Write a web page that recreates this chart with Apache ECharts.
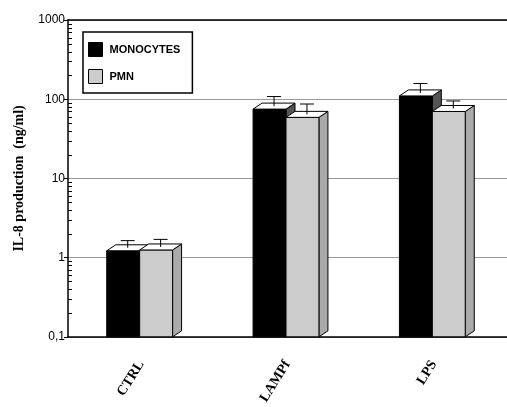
<!DOCTYPE html>
<html>
<head>
<meta charset="utf-8">
<script src="https://cdn.jsdelivr.net/npm/echarts@6/dist/echarts.min.js"></script>
<style>
  html, body { margin: 0; padding: 0; background: #fff; }
  #chart { width: 507px; height: 407px; }
</style>
</head>
<body>
<div id="chart"></div>
<script>
// IL-8 production (ng/ml), mean and upper error value per stimulus
const categories = ['CTRL', 'LAMPf', 'LPS'];
const monocytes = [1.22, 75, 110];
const monocytesErr = [1.64, 108, 158];
const pmn = [1.25, 59, 70];
const pmnErr = [1.7, 87, 95];
const yTicks = [0.1, 1, 10, 100, 1000];
const minorSteps = [2, 3, 4, 5, 6, 7, 8, 9];

// minor ticks of the log axis: 2..9 within each decade
const minorTicks = [];
yTicks.slice(0, -1).forEach(d => minorSteps.forEach(m => minorTicks.push([0, +(d * m).toPrecision(3)])));

const chart = echarts.init(document.getElementById('chart'));

// Pseudo-3D bar: front face, top face, side face and an upper error bar
function makeRenderer(slot, frontColor, sideColor) {
  return function (params, api) {
    const idx = api.value(0);
    const v = api.value(1);
    const e = api.value(2);
    const top = api.coord([idx, v]);
    const base = api.coord([idx, yTicks[0]]);
    const band = api.coord([1, v])[0] - api.coord([0, v])[0];
    const w = band * 0.225;
    const dx = 9, dy = 6;
    const left = slot === 0 ? top[0] - w - 1.5 : top[0] - 1.5;
    const ty = top[1], by = base[1];
    const errY = api.coord([idx, e])[1];
    const cx = left + w / 2 + dx / 2;
    const stroke = { stroke: '#000', lineWidth: 1 };
    return {
      type: 'group',
      children: [
        { type: 'polygon', shape: { points: [[left + w, ty], [left + w + dx, ty - dy], [left + w + dx, by - dy], [left + w, by]] },
          style: Object.assign({ fill: sideColor }, stroke) },
        { type: 'rect', shape: { x: left, y: ty, width: w, height: by - ty },
          style: Object.assign({ fill: frontColor }, stroke) },
        { type: 'polygon', shape: { points: [[left, ty], [left + dx, ty - dy], [left + w + dx, ty - dy], [left + w, ty]] },
          style: Object.assign({ fill: '#fff' }, stroke) },
        { type: 'line', shape: { x1: cx, y1: ty - dy / 2, x2: cx, y2: errY }, style: stroke },
        { type: 'line', shape: { x1: cx - 7, y1: errY, x2: cx + 7, y2: errY }, style: stroke }
      ]
    };
  };
}

// one value-axis minor tick, drawn inward from the axis line
function renderMinorTick(params, api) {
  const p0 = api.coord([0, api.value(1)]);
  const p1 = api.coord([1, api.value(1)]);
  const x = p0[0] - (p1[0] - p0[0]) / 2;
  const y = Math.round(p0[1]) + 0.5;
  return { type: 'line', shape: { x1: x, y1: y, x2: x + 4, y2: y }, style: { stroke: '#000', lineWidth: 1 } };
}

const monoData = categories.map((c, i) => [i, monocytes[i], monocytesErr[i]]);
const pmnData = categories.map((c, i) => [i, pmn[i], pmnErr[i]]);

chart.setOption({
  animation: false,
  backgroundColor: '#fff',
  grid: { left: 68, right: 0, top: 20, bottom: 69 },
  legend: {
    orient: 'vertical',
    left: 83, top: 32,
    padding: [10, 12, 9, 5],
    itemWidth: 14, itemHeight: 14,
    itemGap: 12,
    borderColor: '#000', borderWidth: 1.5,
    icon: 'rect',
    textStyle: { fontFamily: 'Liberation Sans', fontWeight: 'bold', fontSize: 11, color: '#000', padding: [0, 0, 0, 2] },
    data: [
      { name: 'MONOCYTES', itemStyle: { color: '#000', borderColor: '#000', borderWidth: 1 } },
      { name: 'PMN', itemStyle: { color: '#cccccc', borderColor: '#000', borderWidth: 1 } }
    ]
  },
  xAxis: [{
    type: 'category',
    data: categories,
    axisLine: { lineStyle: { color: '#000', width: 1.5 } },
    axisTick: { show: false },
    axisLabel: {
      rotate: 58, margin: 25, color: '#000',
      fontFamily: 'Liberation Serif', fontWeight: 'bold', fontSize: 14
    }
  }, {
    type: 'category',
    position: 'top',
    data: categories,
    axisLine: { lineStyle: { color: '#000', width: 1.5 } },
    axisTick: { show: false },
    axisLabel: { show: false }
  }],
  yAxis: {
    type: 'log',
    logBase: 10,
    min: 0.1, max: 1000,
    name: 'IL-8 production  (ng/ml)',
    nameLocation: 'middle',
    nameGap: 42,
    nameTextStyle: { fontFamily: 'Liberation Serif', fontWeight: 'bold', fontSize: 14, color: '#000' },
    axisLine: { show: true, lineStyle: { color: '#000', width: 1.5 } },
    axisTick: { show: true, length: 4, lineStyle: { color: '#000' } },
    axisLabel: {
      color: '#000', fontFamily: 'Liberation Sans', fontSize: 12, margin: 3,
      formatter: v => String(v).replace('.', ',')
    },
    splitLine: { show: true, lineStyle: { color: '#999', width: 1 } }
  },
  series: [
    {
      name: 'axisMinor', type: 'custom',
      renderItem: renderMinorTick,
      data: minorTicks, silent: true, z: 5, clip: false
    },
    {
      name: 'MONOCYTES', type: 'custom',
      itemStyle: { color: '#000' },
      renderItem: makeRenderer(0, '#000', '#555'),
      data: monoData, z: 2
    },
    {
      name: 'PMN', type: 'custom',
      itemStyle: { color: '#cccccc' },
      renderItem: makeRenderer(1, '#cccccc', '#aaaaaa'),
      data: pmnData, z: 3
    }
  ]
});
</script>
</body>
</html>
